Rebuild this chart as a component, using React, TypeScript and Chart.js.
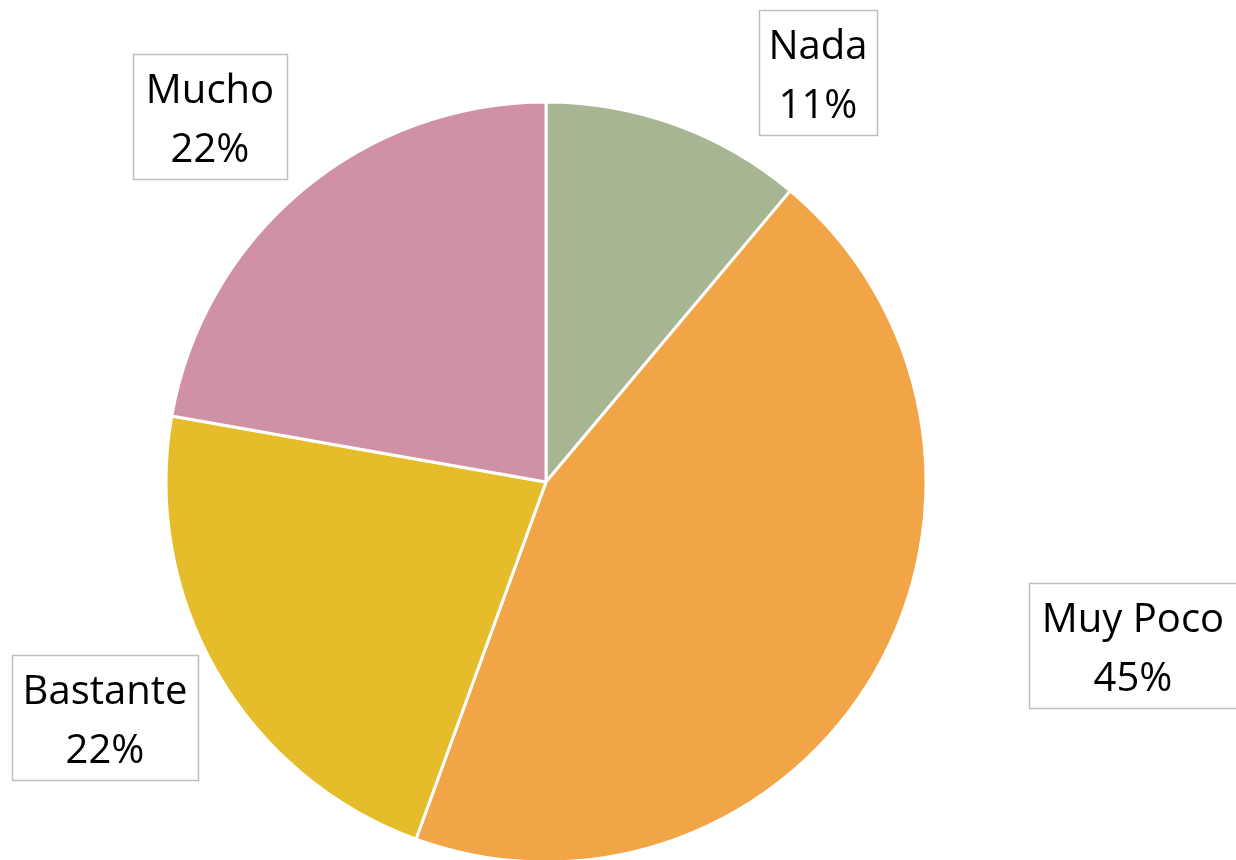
import React, { useEffect, useRef } from "react";
import { Chart, registerables } from "chart.js";

Chart.register(...registerables);

const categories = ["Nada", "Muy Poco", "Bastante", "Mucho"];
const values = [2, 8, 4, 4];
const percentLabels = ["11%", "45%", "22%", "22%"];
const colors = ["#A7B593", "#F2A546", "#E5BD2A", "#D091A6"];

// label box placement (style/layout, not data): center x, center y, width, height
const labelBoxes = [
  { cx: 818, cy: 72.5, w: 118, h: 125 },
  { cx: 1133, cy: 645.5, w: 208, h: 125 },
  { cx: 105, cy: 717.5, w: 186, h: 125 },
  { cx: 210, cy: 116.5, w: 154, h: 125 },
];

const labelPlugin = {
  id: "boxLabels",
  afterDatasetsDraw(chart: any) {
    const ctx = chart.ctx;
    ctx.save();
    chart.data.labels.forEach((lab: string, i: number) => {
      const b = labelBoxes[i];
      const x0 = Math.round(b.cx - b.w / 2) + 0.5;
      const y0 = Math.round(b.cy - b.h / 2) + 0.5;
      ctx.fillStyle = "#FFFFFF";
      ctx.fillRect(x0, y0, b.w, b.h);
      ctx.strokeStyle = "#BFBFBF";
      ctx.lineWidth = 1.5;
      ctx.strokeRect(x0, y0, b.w, b.h);
      ctx.fillStyle = "#000000";
      ctx.font = "40px 'Open Sans'";
      ctx.textAlign = "center";
      ctx.textBaseline = "alphabetic";
      ctx.fillText(lab, b.cx, b.cy - 14);
      ctx.fillText(percentLabels[i], b.cx, b.cy + 45);
    });
    ctx.restore();
  },
};

export default function App() {
  const ref = useRef<HTMLCanvasElement | null>(null);
  useEffect(() => {
    document.body.style.margin = "0";
    document.body.style.overflow = "hidden";
    const chart = new Chart(ref.current as HTMLCanvasElement, {
      type: "pie",
      data: {
        labels: categories,
        datasets: [
          {
            data: values,
            backgroundColor: colors,
            borderColor: "#FFFFFF",
            borderWidth: 3,
            clip: false as any,
          },
        ],
      },
      options: {
        animation: false,
        responsive: false,
        radius: 380,
        layout: { padding: { top: 104, bottom: 0, left: 0, right: 144 } },
        plugins: {
          legend: { display: false },
          tooltip: { enabled: false },
        },
      } as any,
      plugins: [labelPlugin],
    });
    return () => chart.destroy();
  }, []);
  return (
    <div style={{ width: 1236, height: 860, background: "#FFFFFF" }}>
      <canvas ref={ref} width={1236} height={860} style={{ display: "block" }} />
    </div>
  );
}
